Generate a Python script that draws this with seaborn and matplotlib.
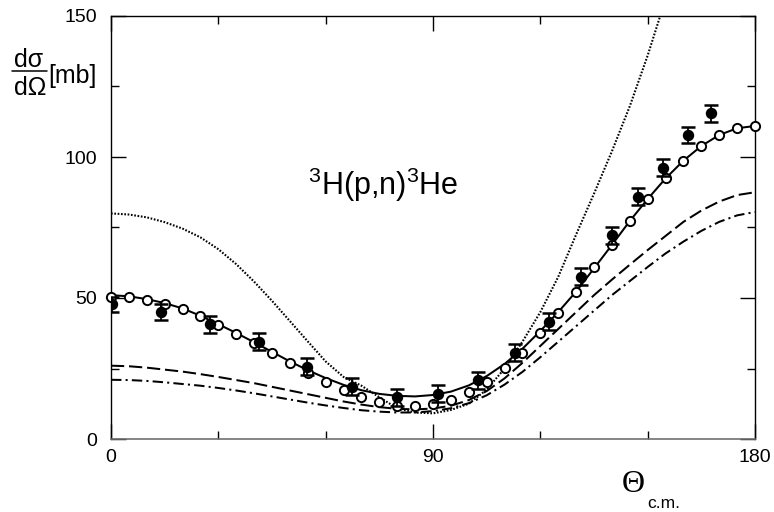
import numpy as np
import pandas as pd
import matplotlib
matplotlib.use("Agg")
import matplotlib.pyplot as plt
import seaborn as sns

# ---- data -------------------------------------------------------------
# scattering angle grid (degrees, c.m.) for the calculated curves
theta = list(range(0, 181, 5))

# full calculation (solid line)
full_calc = [51.0, 50.6, 49.6, 48.2, 46.3, 43.7, 40.7, 37.6, 34.3, 30.9,
             27.5, 24.4, 21.6, 19.2, 17.3, 16.0, 15.3, 15.1, 15.6, 16.8,
             19.0, 22.3, 26.6, 32.0, 38.3, 45.0, 52.3, 60.5, 68.8, 77.3,
             85.1, 92.4, 98.7, 103.9, 107.8, 110.2, 111.0]

# open circles: alternative calculation
open_calc = [50.5, 50.2, 49.3, 47.9, 46.0, 43.6, 40.4, 37.2, 34.1, 30.4,
             26.9, 23.3, 20.3, 17.4, 15.0, 13.0, 11.8, 11.8, 12.4, 14.0,
             16.5, 20.2, 25.1, 30.6, 37.5, 44.6, 52.2, 61.1, 68.8, 77.4,
             85.1, 92.4, 98.7, 103.9, 107.8, 110.2, 111.0]

# dashed line
dashed_calc = [26.0, 25.8, 25.3, 24.6, 23.9, 23.0, 22.0, 20.9, 19.8, 18.5,
               17.2, 15.9, 14.6, 13.3, 12.2, 11.3, 10.7, 10.5, 10.8, 11.8,
               13.8, 17.0, 21.5, 27.0, 33.0, 39.0, 45.0, 51.0, 56.5, 61.8,
               67.0, 72.0, 77.0, 81.0, 84.2, 86.5, 87.5]

# dash-dotted line
dashdot_calc = [21.0, 20.9, 20.6, 20.1, 19.5, 18.9, 18.1, 17.2, 16.2, 15.1,
                14.0, 12.9, 11.9, 11.0, 10.2, 9.7, 9.4, 9.4, 9.9, 10.9,
                12.7, 15.5, 19.3, 23.8, 29.0, 34.5, 40.0, 45.5, 51.0, 56.0,
                61.0, 65.8, 70.0, 73.8, 77.0, 79.3, 80.5]

# dotted line (leaves the frame above 150 mb)
dotted_calc = [80.0, 79.6, 78.6, 76.9, 74.6, 71.5, 67.3, 62.0, 55.8, 49.0,
               41.8, 34.6, 27.5, 22.0, 18.9, 14.8, 10.9, 9.4, 9.1, 10.3,
               12.5, 17.5, 25.0, 34.5, 45.0, 57.5, 72.5, 87.0, 102.0, 118.0,
               136.0, 156.0, 177.0, 200.0, 222.0, 242.0, 260.0]

# measured cross sections with errors
theta_exp = [0.2, 14.0, 27.7, 41.5, 54.7, 67.3, 79.8, 91.5, 102.7, 112.9,
             122.4, 131.4, 139.9, 147.4, 154.4, 161.3, 167.6]
sigma_exp = [47.7, 45.0, 40.7, 34.5, 25.6, 18.5, 14.8, 16.0, 20.9, 30.6,
             41.6, 57.6, 72.3, 85.9, 96.2, 107.8, 115.5]
err_exp = [2.8, 2.8, 3.0, 3.0, 3.0, 3.0, 3.0, 3.0, 3.0, 3.0,
           3.0, 3.0, 3.0, 3.0, 3.0, 3.0, 3.0]

x_ticks = [0, 90, 180]
y_ticks = [0, 50, 100, 150]

# ---- style ------------------------------------------------------------
sns.set_style("ticks")
plt.rcParams["font.family"] = ["Liberation Sans", "DejaVu Sans"]
plt.rcParams["mathtext.fontset"] = "custom"
plt.rcParams["mathtext.rm"] = "Liberation Sans"
plt.rcParams["mathtext.it"] = "Liberation Sans:italic"
plt.rcParams["mathtext.bf"] = "Liberation Sans:bold"
plt.rcParams["lines.scale_dashes"] = False
plt.rcParams["text.color"] = "black"
plt.rcParams["xtick.color"] = "black"
plt.rcParams["ytick.color"] = "black"
plt.rcParams["xtick.labelcolor"] = "black"
plt.rcParams["ytick.labelcolor"] = "black"

W, H = 774, 512
fig = plt.figure(figsize=(W / 100, H / 100), dpi=100)
ax = fig.add_axes([111 / W, 1 - 439 / H, (755 - 111) / W, (439 - 16) / H])

curves = pd.DataFrame({
    "theta": theta,
    "full": full_calc,
    "dashed": dashed_calc,
    "dashdot": dashdot_calc,
    "dotted": dotted_calc,
    "open": open_calc,
})

lw = 1.45
sns.lineplot(data=curves, x="theta", y="dotted", ax=ax, color="black",
             lw=1.5)
ax.lines[-1].set_dashes((1.2, 1.2))
sns.lineplot(data=curves, x="theta", y="dashed", ax=ax, color="black",
             lw=lw)
ax.lines[-1].set_dashes((9.5, 3.5))
sns.lineplot(data=curves, x="theta", y="dashdot", ax=ax, color="black",
             lw=lw)
ax.lines[-1].set_dashes((7.5, 3.0, 1.5, 3.0))
sns.lineplot(data=curves, x="theta", y="full", ax=ax, color="black", lw=lw)

sns.scatterplot(data=curves, x="theta", y="open", ax=ax, marker="o",
                s=44, facecolor="white", edgecolor="black", linewidth=1.4,
                zorder=3, clip_on=False)

ax.errorbar(theta_exp, sigma_exp, yerr=err_exp, fmt="o", color="black",
            ms=7.2, capsize=5.0, elinewidth=1.3, capthick=1.8, zorder=4)

ax.set_xlim(0, 180)
ax.set_ylim(0, 150)
ax.set_xticks(x_ticks)
ax.set_yticks(y_ticks)
ax.set_xticks([30, 60, 120, 150], minor=True)
ax.set_yticks([25, 75, 125], minor=True)
ax.set_xticklabels([str(v) for v in x_ticks])
ax.set_yticklabels([str(v) for v in y_ticks])
ax.tick_params(which="both", direction="in", top=True, right=True,
               color="black", labelcolor="black", width=1.0, labelsize=14)
ax.tick_params(which="major", length=11)
ax.tick_params(which="minor", length=6)
ax.tick_params(axis="x", pad=7)
ax.tick_params(axis="y", pad=10)
ax.set_xlabel("")
ax.set_ylabel("")
for side in ["left", "right", "top"]:
    ax.spines[side].set_color("black")
    ax.spines[side].set_linewidth(1.0)
ax.spines["bottom"].set_color("#707070")
ax.spines["bottom"].set_linewidth(1.2)

# reaction label
ax.text(308 / W, 1 - 195 / H, r"$^{3}$H(p,n)$^{3}$He", transform=fig.transFigure,
        fontsize=22, ha="left", va="baseline")

# y-axis label: dσ/dΩ [mb]
fig.text(29 / W, 1 - 67 / H, "dσ", fontsize=18, ha="center", va="baseline")
fig.text(30 / W, 1 - 95 / H, "dΩ", fontsize=18, ha="center", va="baseline")
fig.add_artist(plt.Line2D([12 / W, 47 / W], [1 - 71 / H, 1 - 71 / H],
                          transform=fig.transFigure, color="black", lw=1.1))
fig.text(48 / W, 1 - 83 / H, "[mb]", fontsize=18, ha="left", va="baseline")

# x-axis label: Θ_c.m.
fig.text(622 / W, 1 - 492 / H, "Θ", fontsize=23, ha="left", va="baseline",
         family=["Liberation Serif", "DejaVu Serif"])
fig.text(647 / W, 1 - 508 / H, "c.m.", fontsize=12.5, ha="left",
         va="baseline")

fig.savefig("out.png", dpi=100)
